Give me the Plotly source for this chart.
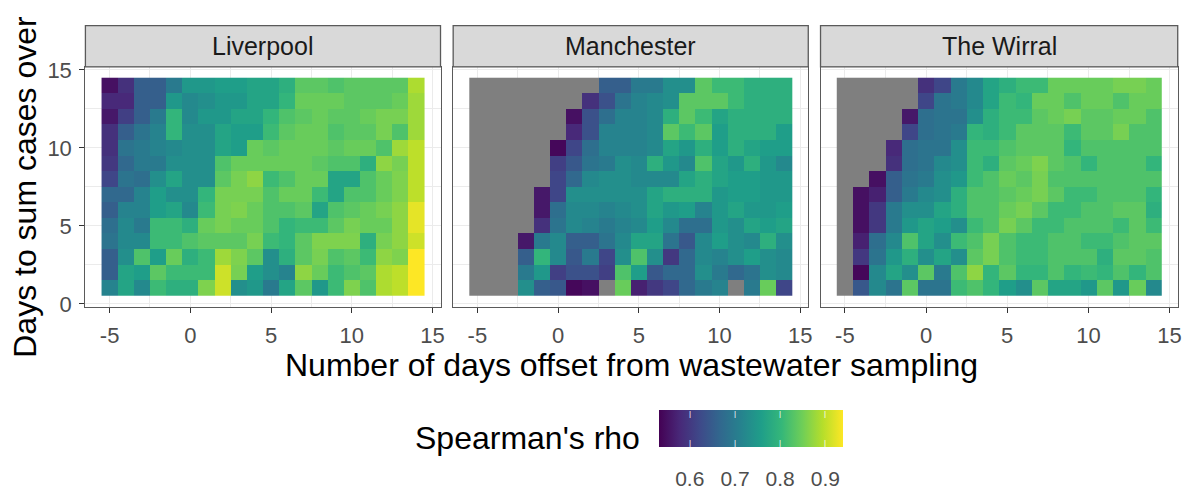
import numpy as np
import plotly.graph_objects as go

N = np.nan
facets = ["Liverpool", "Manchester", "The Wirral"]
x_offsets = list(range(-5, 15))
y_days_desc = list(range(14, 0, -1))  # rows listed top (14) to bottom (1)

x_ticks = [-5, 0, 5, 10, 15]
x_tick_labels = ["-5", "0", "5", "10", "15"]
y_ticks = [0, 5, 10, 15]
y_tick_labels = ["0", "5", "10", "15"]
cbar_ticks = [0.6, 0.7, 0.8, 0.9]
cbar_tick_labels = ["0.6", "0.7", "0.8", "0.9"]
rho_min = 0.533
rho_max = 0.94

liverpool = [
    [0.55, 0.59, 0.655, 0.655, 0.70, 0.75, 0.75, 0.76, 0.76, 0.77, 0.77, 0.79, 0.835, 0.835, 0.825, 0.835, 0.835, 0.835, 0.835, 0.89],
    [0.58, 0.58, 0.655, 0.655, 0.75, 0.725, 0.735, 0.75, 0.75, 0.77, 0.77, 0.80, 0.845, 0.845, 0.845, 0.835, 0.835, 0.835, 0.845, 0.88],
    [0.56, 0.61, 0.655, 0.70, 0.80, 0.725, 0.75, 0.75, 0.77, 0.77, 0.80, 0.825, 0.835, 0.845, 0.835, 0.835, 0.845, 0.855, 0.855, 0.88],
    [0.59, 0.655, 0.69, 0.715, 0.80, 0.735, 0.735, 0.77, 0.76, 0.76, 0.81, 0.835, 0.845, 0.845, 0.825, 0.835, 0.835, 0.855, 0.825, 0.88],
    [0.59, 0.69, 0.70, 0.715, 0.725, 0.735, 0.735, 0.77, 0.76, 0.845, 0.835, 0.845, 0.845, 0.845, 0.835, 0.845, 0.845, 0.825, 0.88, 0.90],
    [0.60, 0.67, 0.70, 0.70, 0.735, 0.735, 0.735, 0.825, 0.845, 0.845, 0.845, 0.845, 0.845, 0.835, 0.825, 0.825, 0.79, 0.87, 0.855, 0.90],
    [0.62, 0.69, 0.68, 0.735, 0.77, 0.735, 0.735, 0.835, 0.855, 0.87, 0.81, 0.825, 0.845, 0.845, 0.77, 0.77, 0.825, 0.845, 0.86, 0.90],
    [0.67, 0.67, 0.715, 0.76, 0.735, 0.735, 0.80, 0.855, 0.855, 0.855, 0.825, 0.845, 0.845, 0.81, 0.77, 0.825, 0.825, 0.845, 0.86, 0.90],
    [0.655, 0.715, 0.715, 0.76, 0.77, 0.725, 0.81, 0.855, 0.86, 0.845, 0.825, 0.825, 0.835, 0.77, 0.825, 0.835, 0.845, 0.855, 0.87, 0.925],
    [0.68, 0.725, 0.70, 0.81, 0.81, 0.79, 0.845, 0.855, 0.845, 0.845, 0.825, 0.80, 0.81, 0.81, 0.835, 0.855, 0.845, 0.845, 0.87, 0.925],
    [0.69, 0.725, 0.725, 0.81, 0.81, 0.825, 0.835, 0.835, 0.835, 0.855, 0.81, 0.80, 0.835, 0.86, 0.86, 0.86, 0.79, 0.855, 0.87, 0.91],
    [0.655, 0.735, 0.825, 0.76, 0.845, 0.79, 0.81, 0.88, 0.86, 0.835, 0.735, 0.79, 0.835, 0.855, 0.825, 0.835, 0.81, 0.87, 0.86, 0.94],
    [0.655, 0.77, 0.76, 0.835, 0.81, 0.81, 0.81, 0.91, 0.855, 0.76, 0.735, 0.715, 0.87, 0.845, 0.81, 0.825, 0.835, 0.89, 0.90, 0.94],
    [0.715, 0.77, 0.725, 0.81, 0.79, 0.79, 0.86, 0.91, 0.735, 0.75, 0.70, 0.77, 0.835, 0.75, 0.81, 0.86, 0.825, 0.89, 0.90, 0.94],
]

manchester = [
    [N]*8 + [0.655, 0.655, 0.70, 0.70, 0.735, 0.735, 0.835, 0.81, 0.81, 0.79, 0.79, 0.79],
    [N]*7 + [0.59, 0.635, 0.69, 0.715, 0.725, 0.735, 0.835, 0.835, 0.835, 0.81, 0.79, 0.79, 0.79],
    [N]*6 + [0.55, 0.635, 0.68, 0.715, 0.715, 0.725, 0.79, 0.835, 0.81, 0.77, 0.79, 0.79, 0.79, 0.79],
    [N]*6 + [0.58, 0.635, 0.715, 0.715, 0.715, 0.725, 0.835, 0.81, 0.835, 0.76, 0.79, 0.79, 0.79, 0.76],
    [N]*5 + [0.54, 0.62, 0.68, 0.715, 0.715, 0.715, 0.725, 0.77, 0.75, 0.79, 0.76, 0.79, 0.77, 0.76, 0.76],
    [N]*5 + [0.61, 0.645, 0.69, 0.70, 0.735, 0.725, 0.79, 0.75, 0.725, 0.825, 0.77, 0.75, 0.79, 0.75, 0.725],
    [N]*5 + [0.62, 0.67, 0.725, 0.735, 0.735, 0.725, 0.725, 0.725, 0.77, 0.79, 0.77, 0.76, 0.76, 0.75, 0.75],
    [N]*4 + [0.56, 0.62, 0.735, 0.735, 0.735, 0.735, 0.735, 0.77, 0.79, 0.79, 0.79, 0.75, 0.76, 0.76, 0.75, 0.75],
    [N]*4 + [0.56, 0.68, 0.725, 0.725, 0.715, 0.725, 0.735, 0.77, 0.75, 0.76, 0.715, 0.75, 0.77, 0.75, 0.75, 0.76],
    [N]*4 + [0.59, 0.69, 0.725, 0.715, 0.70, 0.715, 0.725, 0.76, 0.725, 0.68, 0.68, 0.75, 0.735, 0.77, 0.76, 0.77],
    [N]*3 + [0.56, 0.70, 0.725, 0.655, 0.655, 0.69, 0.725, 0.77, 0.77, 0.69, 0.645, 0.725, 0.76, 0.735, 0.725, 0.79, 0.735],
    [N]*3 + [0.655, 0.80, 0.725, 0.645, 0.70, 0.62, 0.735, 0.825, 0.735, 0.60, 0.67, 0.725, 0.715, 0.735, 0.76, 0.735, 0.725],
    [N]*3 + [0.70, 0.75, 0.61, 0.635, 0.635, 0.61, 0.825, 0.76, 0.645, 0.67, 0.67, 0.735, 0.70, 0.67, 0.69, 0.735, 0.725],
    [N]*3 + [0.735, 0.655, 0.645, 0.54, 0.55, N, 0.845, 0.57, 0.60, 0.62, 0.67, 0.70, 0.715, N, 0.70, 0.845, 0.62],
]

wirral = [
    [N]*5 + [0.59, 0.62, 0.70, 0.725, 0.77, 0.79, 0.81, 0.81, 0.845, 0.845, 0.845, 0.845, 0.855, 0.855, 0.845],
    [N]*5 + [0.62, 0.69, 0.70, 0.725, 0.77, 0.81, 0.80, 0.845, 0.845, 0.825, 0.845, 0.845, 0.825, 0.845, 0.845],
    [N]*4 + [0.56, 0.68, 0.69, 0.69, 0.735, 0.79, 0.81, 0.81, 0.835, 0.845, 0.855, 0.835, 0.835, 0.845, 0.845, 0.825],
    [N]*4 + [0.62, 0.68, 0.69, 0.70, 0.80, 0.79, 0.81, 0.835, 0.835, 0.835, 0.81, 0.835, 0.835, 0.855, 0.825, 0.825],
    [N]*3 + [0.58, 0.68, 0.69, 0.69, 0.735, 0.81, 0.81, 0.825, 0.835, 0.835, 0.835, 0.80, 0.825, 0.825, 0.825, 0.825, 0.825],
    [N]*3 + [0.59, 0.68, 0.69, 0.725, 0.735, 0.81, 0.79, 0.835, 0.845, 0.86, 0.835, 0.825, 0.80, 0.825, 0.825, 0.825, 0.80],
    [N]*2 + [0.55, 0.655, 0.69, 0.70, 0.735, 0.75, 0.81, 0.825, 0.845, 0.835, 0.855, 0.825, 0.825, 0.825, 0.825, 0.825, 0.825, 0.825],
    [N]*1 + [0.55, 0.57, 0.655, 0.70, 0.725, 0.735, 0.79, 0.825, 0.825, 0.835, 0.845, 0.855, 0.835, 0.81, 0.81, 0.825, 0.825, 0.825, 0.80],
    [N]*1 + [0.55, 0.60, 0.70, 0.735, 0.735, 0.77, 0.79, 0.825, 0.825, 0.845, 0.855, 0.835, 0.81, 0.81, 0.825, 0.825, 0.835, 0.835, 0.79],
    [N]*1 + [0.55, 0.60, 0.70, 0.75, 0.77, 0.76, 0.735, 0.81, 0.825, 0.855, 0.835, 0.81, 0.81, 0.825, 0.825, 0.825, 0.81, 0.835, 0.81],
    [N]*1 + [0.57, 0.68, 0.725, 0.825, 0.77, 0.735, 0.81, 0.825, 0.855, 0.825, 0.81, 0.81, 0.825, 0.825, 0.81, 0.81, 0.825, 0.835, 0.835],
    [N]*1 + [0.60, 0.69, 0.75, 0.79, 0.735, 0.77, 0.735, 0.835, 0.855, 0.825, 0.81, 0.81, 0.825, 0.825, 0.825, 0.79, 0.835, 0.835, 0.825],
    [N]*1 + [0.54, 0.725, 0.77, 0.735, 0.835, 0.70, 0.825, 0.87, 0.80, 0.835, 0.80, 0.80, 0.825, 0.80, 0.81, 0.80, 0.825, 0.80, 0.825],
    [N]*1 + [0.645, 0.725, 0.69, 0.835, 0.69, 0.69, 0.81, 0.825, 0.80, 0.76, 0.735, 0.835, 0.77, 0.77, 0.75, 0.835, 0.75, 0.845, 0.725],
]

panel_data = [liverpool, manchester, wirral]

# ---- layout geometry (pixels) ----
W, H = 1188, 493
panel_px = [(85.7, 442.0), (454.7, 811.0), (823.3, 1181.7)]
panel_top, panel_bot = 60.0, 309.3
strip_top = 17.3
cbar_left, cbar_len = 661.7, 184.0
cbar_top, cbar_thick = 416.0, 37.0

def px_x(v):
    return v / W

def px_y(v):
    return 1 - v / H

FONT = "Liberation Sans, Arial, Helvetica, sans-serif"
BORDER = "#5a5a5a"
GRID = "#ebebeb"
NA_GREY = "#7f7f7f"

fig = go.Figure()
layout_axes = {}
shapes = []
annotations = []

for i, (name, data) in enumerate(zip(facets, panel_data)):
    k = "" if i == 0 else str(i + 1)
    xa, ya = "x" + k, "y" + k
    z = np.array(data, dtype=float)
    na_mask = np.where(np.isnan(z), 1.0, np.nan)
    fig.add_trace(go.Heatmap(
        x=x_offsets, y=y_days_desc, z=na_mask,
        colorscale=[[0, NA_GREY], [1, NA_GREY]], showscale=False,
        xaxis=xa, yaxis=ya, hoverinfo="skip"))
    fig.add_trace(go.Heatmap(
        x=x_offsets, y=y_days_desc, z=z, coloraxis="coloraxis",
        xaxis=xa, yaxis=ya, name=name))

    x0, x1 = panel_px[i]
    layout_axes["xaxis" + k] = dict(
        domain=[px_x(x0), px_x(x1)], range=[-6.5, 15.5], anchor=ya,
        tickvals=x_ticks, ticktext=x_tick_labels,
        ticks="outside", ticklen=5, tickwidth=1.2, tickcolor="#333333",
        ticklabelstandoff=3,
        tickfont=dict(size=22, color="#4d4d4d", family=FONT),
        showgrid=True, gridcolor=GRID, gridwidth=1.2,
        minor=dict(dtick=2.5, tick0=0, showgrid=True, gridcolor=GRID, gridwidth=0.6),
        showline=True, mirror=True, linecolor=BORDER, linewidth=1.3, zeroline=False)
    layout_axes["yaxis" + k] = dict(
        domain=[px_y(panel_bot), px_y(panel_top)], range=[-0.2, 15.2], anchor=xa,
        tickvals=y_ticks, ticktext=y_tick_labels,
        ticks="outside" if i == 0 else "", ticklen=5, tickwidth=1.2,
        tickcolor="#333333", showticklabels=(i == 0), ticklabelstandoff=3,
        tickfont=dict(size=22, color="#4d4d4d", family=FONT),
        showgrid=True, gridcolor=GRID, gridwidth=1.2,
        minor=dict(dtick=2.5, tick0=0, showgrid=True, gridcolor=GRID, gridwidth=0.6),
        showline=True, mirror=True, linecolor=BORDER, linewidth=1.3, zeroline=False)

    shapes.append(dict(type="rect", xref="paper", yref="paper",
                       x0=px_x(x0), x1=px_x(x1), y0=px_y(panel_top), y1=px_y(strip_top),
                       fillcolor="#d9d9d9", line=dict(color=BORDER, width=1.3), layer="above"))
    annotations.append(dict(text=name, xref="paper", yref="paper",
                            x=px_x((x0 + x1) / 2), y=px_y((strip_top + panel_top) / 2),
                            xanchor="center", yanchor="middle", showarrow=False,
                            font=dict(size=25, color="#1a1a1a", family=FONT)))

annotations.append(dict(text="Number of days offset from wastewater sampling",
                        xref="paper", yref="paper", x=px_x(633.7), y=px_y(369),
                        xanchor="center", yanchor="middle", showarrow=False,
                        font=dict(size=32, color="#000000", family=FONT)))
annotations.append(dict(text="Days to sum cases over", textangle=-90,
                        xref="paper", yref="paper", x=px_x(25), y=px_y(184.6),
                        xanchor="center", yanchor="middle", showarrow=False,
                        font=dict(size=32, color="#000000", family=FONT)))
annotations.append(dict(text="Spearman's rho", xref="paper", yref="paper",
                        x=px_x(644), y=px_y(445), xanchor="right", yanchor="middle",
                        showarrow=False, font=dict(size=32, color="#000000", family=FONT)))

# short white tick marks at the top and bottom edges of the colour bar,
# positioned from the colour scale
for v in cbar_ticks:
    xp = cbar_left + (v - rho_min) / (rho_max - rho_min) * cbar_len
    for yp in (cbar_top + 3.5, cbar_top + cbar_thick - 3.5):
        annotations.append(dict(text="|", xref="paper", yref="paper",
                                x=px_x(xp), y=px_y(yp), xanchor="center", yanchor="middle",
                                showarrow=False,
                                font=dict(size=8, color="white", family=FONT)))

fig.update_layout(
    width=W, height=H,
    margin=dict(l=0, r=0, t=0, b=0),
    paper_bgcolor="white", plot_bgcolor="white",
    font=dict(family=FONT),
    showlegend=False,
    shapes=shapes, annotations=annotations,
    coloraxis=dict(
        colorscale="Viridis", cmin=rho_min, cmax=rho_max,
        colorbar=dict(
            orientation="h", x=px_x(cbar_left), xanchor="left",
            y=px_y(cbar_top), yanchor="top",
            len=cbar_len, lenmode="pixels", thickness=cbar_thick, thicknessmode="pixels",
            tickvals=cbar_ticks, ticktext=cbar_tick_labels,
            ticks="outside", ticklen=14, tickwidth=1, tickcolor="rgba(0,0,0,0)",
            outlinewidth=0, xpad=0, ypad=0,
            tickfont=dict(size=21, color="#4d4d4d", family=FONT))),
    **layout_axes,
)

fig.write_html("out.html")
